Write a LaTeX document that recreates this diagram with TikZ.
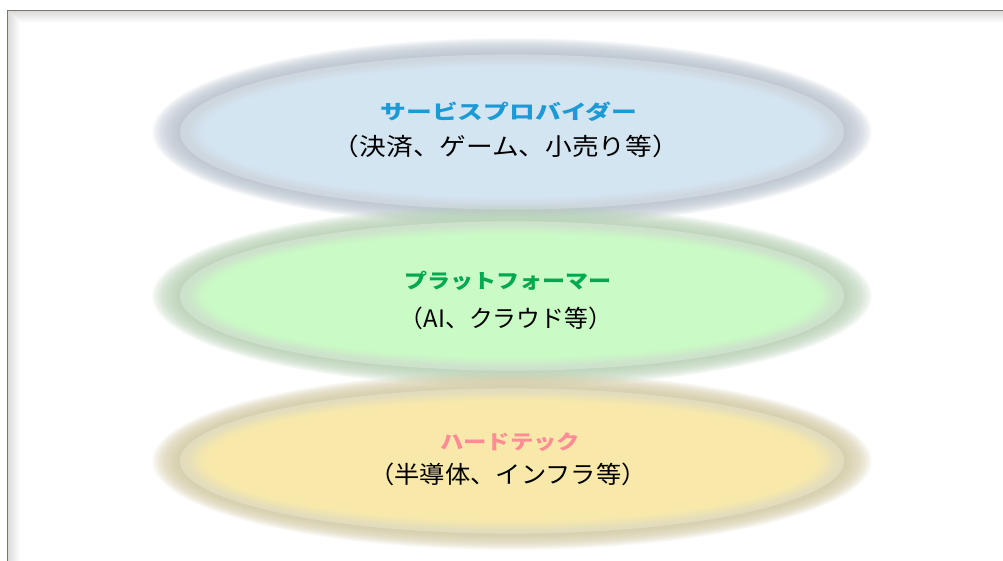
\documentclass[tikz,border=0pt]{standalone}
\usepackage{fontspec}
\newfontfamily\jp{Noto Sans CJK JP}
\definecolor{framec}{HTML}{7C736D}
\definecolor{bluet}{HTML}{1B9AD6}
\definecolor{greent}{HTML}{00A850}
\definecolor{pinkt}{HTML}{FF8B95}
\definecolor{e1c}{HTML}{D4E5F2}
\definecolor{e1r}{HTML}{BCC7D2}
\definecolor{e2c}{HTML}{CAFAC6}
\definecolor{e2r}{HTML}{BCD6BA}
\definecolor{e3c}{HTML}{F8E9AB}
\definecolor{e3r}{HTML}{D8D0A8}
\newcommand\softblob[6]{%
  \foreach \k in {0,...,27} {\fill[#6, opacity=0.065] (#1,#2) ellipse ({#3+24-\k} and {#4+14-0.6*\k});}
  \colorlet{tmprim}{#6!74!white}%
  \foreach \k in {0,...,29} {%
    \pgfmathsetmacro\myt{\k/29}%
    \pgfmathsetmacro\myp{100*(3*\myt*\myt-2*\myt*\myt*\myt)}%
    \fill[color=#5!\myp!tmprim] (#1,#2) ellipse ({#3-4-\k} and {#4-2.4-0.5*\k});}
}
\newcommand\wbox[2]{\resizebox{#1pt}{\height}{#2}}
\tikzset{
  ttl/.style={inner sep=0pt, font=\jp\bfseries\fontsize{20}{24}\selectfont},
  sub/.style={inner sep=0pt, text=black, font=\jp\fontsize{24}{28}\selectfont}
}
\begin{document}
\begin{tikzpicture}[x=1pt,y=-1pt]
\useasboundingbox (0,0) rectangle (1003,560);
\fill[white] (0,0) rectangle (1003,560);
\begin{scope}
  \clip (7.5,10.5) rectangle (1003,560);
  \foreach \k in {1,...,12} {\draw[black, opacity=0.012, line width=2*\k pt] (7.5,10.5) rectangle (1030,590);}
\end{scope}
\softblob{512}{132}{336}{80}{e1c}{e1r}
\softblob{512}{296}{336}{77}{e2c}{e2r}
\softblob{512}{461}{336}{75}{e3c}{e3r}
\begin{scope}
  \clip (0,0) rectangle (1003,560);
  \draw[framec, line width=1.5pt] (7.5,10.5) rectangle (1030,590);
\end{scope}
\node[ttl, text=bluet] (t1) at (509,112) {\wbox{257}{サービスプロバイダー}};
\node[sub] (s1) at (506,146) {\wbox{346}{（決済、ゲーム、小売り等）}};
\node[ttl, text=greent] (t2) at (508,281) {\wbox{207}{プラットフォーマー}};
\node[sub] (s2) at (506,318) {\wbox{212}{（AI、クラウド等）}};
\node[ttl, text=pinkt] (t3) at (510,442) {\wbox{140}{ハードテック}};
\node[sub] (s3) at (508,474) {\wbox{277}{（半導体、インフラ等）}};
\end{tikzpicture}
\end{document}
